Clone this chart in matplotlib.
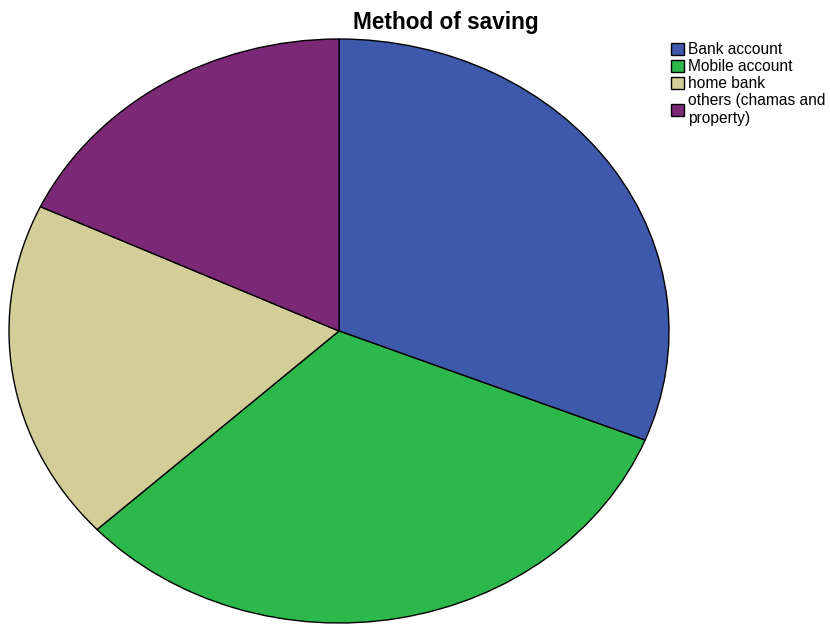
import matplotlib.pyplot as plt

plt.rcParams["font.family"] = ["Liberation Sans", "DejaVu Sans"]

# Anteil je Sparform (in %, aus dem Bild geschätzt)
labels = ["Bank account", "Mobile account", "home bank", "others (chamas and\nproperty)"]
shares = [31.1, 32.0, 18.9, 18.0]
colors = ["#3e58ac", "#2db84b", "#d3ce97", "#7b2877"]

fig = plt.figure(figsize=(8.3, 6.24), dpi=100)
ax = fig.add_axes([9 / 830, 1 / 624, 660 / 830, 584 / 624])

wedges, _ = ax.pie(
    shares,
    colors=colors,
    startangle=90,
    counterclock=False,
    radius=1,
    wedgeprops={"edgecolor": "black", "linewidth": 1},
)
ax.set_aspect("auto")
ax.set_xlim(-1, 1)
ax.set_ylim(-1, 1)
ax.axis("off")

fig.text(446 / 830, 1 - 22 / 624, "Method of saving", ha="center", va="center",
         fontsize=16.3, fontweight="bold")

fig.legend(
    wedges, labels,
    loc="upper left",
    bbox_to_anchor=(665 / 830, 1 - 36 / 624),
    frameon=False,
    fontsize=11.2,
    handlelength=0.8,
    handleheight=0.8,
    handletextpad=0.25,
    labelspacing=0.13,
    borderaxespad=0,
)

fig.savefig("out.png", dpi=100)
